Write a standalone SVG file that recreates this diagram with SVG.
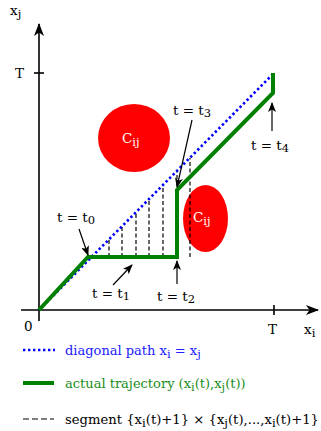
<svg xmlns="http://www.w3.org/2000/svg" width="321" height="431" viewBox="0 0 321 431">
<style>
text{font-family:"DejaVu Serif","Liberation Serif",serif;font-size:13.5px;fill:#000;white-space:pre}
.sub{font-size:11.5px}
.leg{font-size:13px}
.ax{stroke:#000;stroke-width:1.6;fill:none}
.lab{stroke:#000;stroke-width:1.2;fill:none}
.dash{stroke:#000;stroke-width:1.2;stroke-dasharray:4 2.5;fill:none}
.ldash{stroke:#000;stroke-width:1.2;stroke-dasharray:6 3;fill:none}
.diag{stroke:#0000ff;stroke-width:2.6;stroke-dasharray:2.4 2.6;fill:none}
.traj{stroke:#008000;stroke-width:4;fill:none;stroke-linejoin:miter}
.blob{fill:#ff0000}
.wt{fill:#fff}
</style>
<defs>
<marker id="big" markerWidth="14" markerHeight="10" refX="12" refY="5" orient="auto" markerUnits="userSpaceOnUse">
<path d="M0,0 L13,5 L0,10 L3.5,5 z" fill="#000"/>
</marker>
<marker id="sm" markerWidth="10" markerHeight="8" refX="9" refY="4" orient="auto" markerUnits="userSpaceOnUse">
<path d="M0,0 L10,4 L0,8 L2.5,4 z" fill="#000"/>
</marker>
</defs>
<g id="axes">
<line class="ax" x1="39" y1="321" x2="39" y2="24" marker-end="url(#big)"/>
<line class="ax" x1="21" y1="310" x2="318" y2="310" marker-end="url(#big)"/>
<line class="ax" x1="34" y1="73" x2="44" y2="73"/>
<line class="ax" x1="274" y1="305" x2="274" y2="315"/>
<text x="10" y="15">x<tspan class="sub" dy="3">j</tspan></text>
<text x="15" y="78">T</text>
<text x="24" y="331">0</text>
<text x="268" y="334">T</text>
<text x="304" y="334">x<tspan class="sub" dy="3">i</tspan></text>
</g>
<g id="obstacle1">
<ellipse class="blob" cx="134" cy="138" rx="36" ry="34"/>
<text class="wt" x="122" y="143">C<tspan class="sub" dy="3">ij</tspan></text>
</g>
<g id="obstacle2">
<ellipse class="blob" cx="205.5" cy="218.5" rx="22.5" ry="33.5"/>
<text class="wt" x="193" y="222">C<tspan class="sub" dy="3">ij</tspan></text>
</g>
<g id="connectors">
<line class="dash" x1="109" y1="257" x2="109" y2="240"/>
<line class="dash" x1="122" y1="257" x2="122" y2="226"/>
<line class="dash" x1="136" y1="257" x2="136" y2="212"/>
<line class="dash" x1="149" y1="257" x2="149" y2="199"/>
<line class="dash" x1="163" y1="257" x2="163" y2="185"/>
<line class="dash" x1="177" y1="257" x2="177" y2="171"/>
<line class="dash" x1="190" y1="257" x2="190" y2="158"/>
<line class="diag" x1="39" y1="310" x2="274" y2="73"/>
<polyline class="traj" points="39,310 88,257 177,257 177,190 273,93 273,73"/>
<line class="lab" x1="79" y1="229" x2="88" y2="255" marker-end="url(#sm)"/>
<line class="lab" x1="113" y1="285" x2="132" y2="265" marker-end="url(#sm)"/>
<line class="lab" x1="177" y1="284" x2="177" y2="261" marker-end="url(#sm)"/>
<line class="lab" x1="192" y1="120" x2="177" y2="187" marker-end="url(#sm)"/>
<line class="lab" x1="272" y1="131" x2="272" y2="103" marker-end="url(#sm)"/>
</g>
<g id="labels">
<text x="57" y="222">t = t<tspan class="sub" dy="2">0</tspan></text>
<text x="92" y="298">t = t<tspan class="sub" dy="2">1</tspan></text>
<text x="157" y="301">t = t<tspan class="sub" dy="2">2</tspan></text>
<text x="173" y="115">t = t<tspan class="sub" dy="2">3</tspan></text>
<text x="251" y="150">t = t<tspan class="sub" dy="2">4</tspan></text>
</g>
<g id="legend">
<line class="diag" x1="23" y1="350" x2="55" y2="350"/>
<text class="leg" x="65" y="355" style="fill:#2020ff">diagonal path x<tspan class="sub" dy="3">i</tspan><tspan dy="-3"> = x</tspan><tspan class="sub" dy="3">j</tspan></text>
<line class="traj" x1="23" y1="383" x2="54" y2="383"/>
<text class="leg" x="65" y="388" style="fill:#1a8c1a">actual trajectory (x<tspan class="sub" dy="3">i</tspan><tspan dy="-3">(t),x</tspan><tspan class="sub" dy="3">j</tspan><tspan dy="-3">(t))</tspan></text>
<line class="ldash" x1="23" y1="419" x2="54" y2="419"/>
<text class="leg" x="65" y="424" textLength="254" lengthAdjust="spacingAndGlyphs">segment {x<tspan class="sub" dy="3">i</tspan><tspan dy="-3">(t)+1} × {x</tspan><tspan class="sub" dy="3">j</tspan><tspan dy="-3">(t),...,x</tspan><tspan class="sub" dy="3">i</tspan><tspan dy="-3">(t)+1}</tspan></text>
</g>
</svg>
